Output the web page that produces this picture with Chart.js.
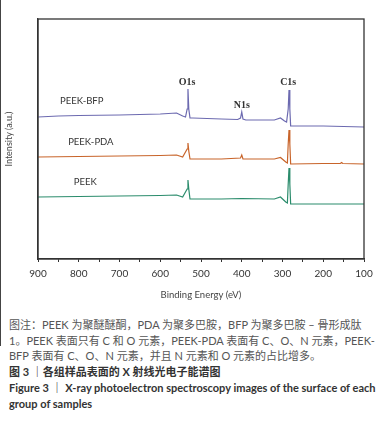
<!DOCTYPE html>
<html>
<head>
<meta charset="utf-8">
<script src="https://cdn.jsdelivr.net/npm/chart.js@4.4.0/dist/chart.umd.min.js"></script>
<style>
  body { margin: 0; background: #fff; }
  #wrap { position: relative; width: 389px; height: 423px; }
  #edge { position: absolute; left: 0; top: 0; width: 1px; height: 346px; background: #444; }
  #chart { position: absolute; left: 0; top: 0; }
  #caption { position: absolute; left: 9px; top: 317px; font-family: Lato, "Noto Sans CJK SC", sans-serif; font-size: 11px; line-height: 15.7px; color: #555; white-space: nowrap; }
  #caption .t { color: #333; font-weight: bold; }
</style>
</head>
<body>
<div id="wrap">
  <canvas id="chart" width="389" height="305"></canvas>
  <div id="edge"></div>
  <div id="caption">
    <div>图注：PEEK 为聚醚醚酮，PDA 为聚多巴胺，BFP 为聚多巴胺 – 骨形成肽</div>
    <div>1。PEEK 表面只有 C 和 O 元素，PEEK-PDA 表面有 C、O、N 元素，PEEK-</div>
    <div>BFP 表面有 C、O、N 元素，并且 N 元素和 O 元素的占比增多。</div>
    <div class="t">图 3 ｜各组样品表面的 X 射线光电子能谱图</div>
    <div class="t">Figure 3 ｜ X-ray photoelectron spectroscopy images of the surface of each</div>
    <div class="t">group of samples</div>
  </div>
</div>
<script>
// energia de enlace (eV) y intensidad
const bfpEnergy = [900, 850, 800, 700, 600, 560, 545, 538, 534, 532, 530, 527, 520, 450, 410, 403, 400, 397, 390, 320, 305, 295, 290, 286, 284, 282, 280, 250, 200, 100];
const bfpValue  = [142, 143, 143.5, 144, 145, 146, 143, 142, 150, 170, 150, 141, 141, 140, 139.5, 141, 147, 140, 139, 139, 141, 138, 137, 150, 169, 150, 133, 133, 133, 132];

const pdaEnergy = [900, 800, 700, 600, 560, 545, 534, 532, 530, 527, 450, 403, 400, 397, 320, 305, 292, 288, 286, 284, 282, 280, 200, 158, 155, 152, 100];
const pdaValue  = [102, 102.5, 103, 103.5, 104, 102, 110, 116, 108, 100, 100, 101, 104, 100, 100, 101.5, 97, 96, 115, 129, 115, 95, 95.5, 95.5, 96.5, 95.5, 95];

const peekEnergy = [900, 800, 700, 600, 560, 545, 534, 532, 530, 527, 450, 400, 320, 305, 292, 288, 286, 284, 282, 280, 200, 100];
const peekValue  = [62, 62.5, 63, 63.5, 64, 62, 70, 79, 70, 60, 60, 60.5, 60, 62, 57, 56, 75, 91, 75, 55, 55, 55];

const seriesNames = ['PEEK-BFP', 'PEEK-PDA', 'PEEK'];
const seriesColors = ['#6c6ab0', '#c8642a', '#2b8c6c'];
// etiquetas: [texto, energía, intensidad]
const seriesLabels = [['PEEK-BFP', 846, 158], ['PEEK-PDA', 826, 117], ['PEEK', 812, 77]];
const peakLabels = [['O1s', 534, 177], ['N1s', 400, 154], ['C1s', 286, 177]];

const toPoints = (xs, ys) => xs.map((x, i) => ({ x: x, y: ys[i] }));

const labelsPlugin = {
    id: 'labels',
    afterDraw(chart) {
        const { ctx, chartArea, scales } = chart;
        ctx.save();
        ctx.strokeStyle = '#333';
        ctx.lineWidth = 1.3;
        ctx.strokeRect(chartArea.left, chartArea.top, chartArea.right - chartArea.left, chartArea.bottom - chartArea.top);

        ctx.textBaseline = 'middle';
        ctx.fillStyle = '#333';
        ctx.font = '9.5px Lato, sans-serif';
        ctx.textAlign = 'left';
        seriesLabels.forEach(l => {
            ctx.fillText(l[0], scales.x.getPixelForValue(l[1]), scales.y.getPixelForValue(l[2]));
        });
        ctx.font = 'bold 10px "Liberation Serif", serif';
        ctx.textAlign = 'center';
        peakLabels.forEach(l => {
            ctx.fillText(l[0], scales.x.getPixelForValue(l[1]), scales.y.getPixelForValue(l[2]));
        });
        ctx.restore();
    }
};

new Chart(document.getElementById('chart'), {
    type: 'line',
    data: {
        datasets: [
            { label: seriesNames[0], data: toPoints(bfpEnergy, bfpValue), borderColor: seriesColors[0] },
            { label: seriesNames[1], data: toPoints(pdaEnergy, pdaValue), borderColor: seriesColors[1] },
            { label: seriesNames[2], data: toPoints(peekEnergy, peekValue), borderColor: seriesColors[2] }
        ]
    },
    options: {
        responsive: false,
        animation: false,
        elements: { point: { radius: 0 }, line: { borderWidth: 1.2, tension: 0 } },
        layout: { padding: { top: 19, right: 25, left: 0, bottom: 0 } },
        plugins: { legend: { display: false }, tooltip: { enabled: false } },
        scales: {
            x: {
                type: 'linear',
                reverse: true,
                min: 100,
                max: 900,
                afterFit(scale) { scale.height = 46; },
                grid: { drawOnChartArea: false, drawTicks: true, tickLength: 3, color: '#333' },
                border: { color: '#333', width: 1.3 },
                ticks: {
                    stepSize: 50,
                    autoSkip: false,
                    maxRotation: 0,
                    padding: 6,
                    color: '#333',
                    font: { family: 'Lato', size: 10 },
                    callback: v => (v % 100 === 0 ? String(v) : '')
                },
                title: { display: true, text: 'Binding Energy (eV)', color: '#444', font: { family: 'Lato', size: 9.5 }, padding: { top: 2 } }
            },
            y: {
                min: 0,
                max: 240,
                afterFit(scale) { scale.width = 38; },
                grid: { display: false },
                border: { color: '#333', width: 1.3 },
                ticks: { display: false },
                title: { display: true, text: 'Intensity (a.u.)', color: '#444', font: { family: 'Lato', size: 9 }, padding: { bottom: 8 } }
            }
        }
    },
    plugins: [labelsPlugin]
});
</script>
</body>
</html>
